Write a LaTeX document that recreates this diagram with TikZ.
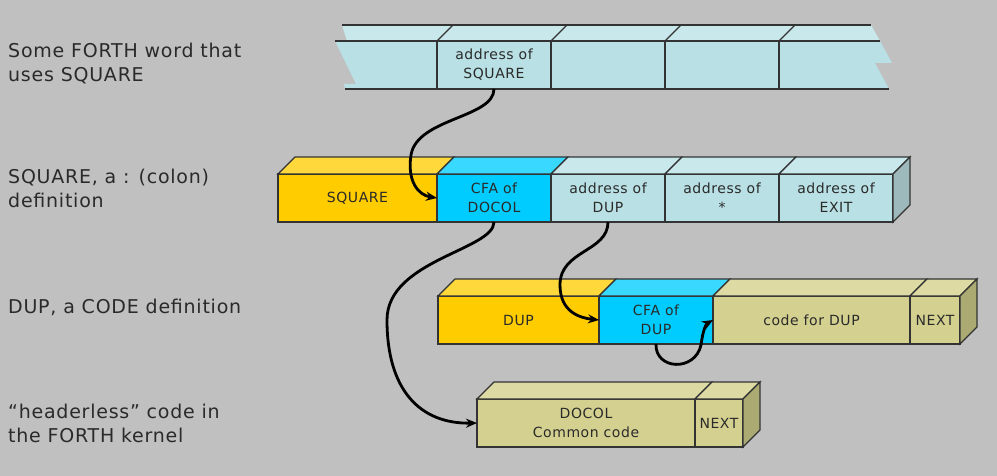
\documentclass[tikz,border=0pt]{standalone}
\usepackage{fontspec}
\newfontfamily\memfont{DejaVu Sans}[LetterSpace=4.0]
\usetikzlibrary{arrows.meta,positioning}
\definecolor{bgc}{HTML}{C0C0C0}
\definecolor{edgec}{HTML}{333333}
\definecolor{textc}{HTML}{2A2A2A}
\definecolor{goldf}{HTML}{FFCC00}
\definecolor{goldt}{HTML}{FFD83C}
\definecolor{cyanf}{HTML}{00CCFF}
\definecolor{cyant}{HTML}{38D8FF}
\definecolor{palef}{HTML}{B9E0E4}
\definecolor{palet}{HTML}{C8E8EB}
\definecolor{pales}{HTML}{9DB9BC}
\definecolor{khakif}{HTML}{D4D190}
\definecolor{khakit}{HTML}{DDDBA3}
\definecolor{khakis}{HTML}{ABAA72}
\tikzset{
  mem/edge/.style={draw=edgec, line width=1.3pt},
  mem/cell/.style={mem/edge, inner sep=0pt, outer sep=0pt, minimum height=48, align=center,
    text=textc, font=\memfont\fontsize{14}{19}\selectfont},
  mem/label/.style={anchor=west, align=left, inner sep=0pt, text=textc,
    font=\memfont\fontsize{19}{24}\selectfont},
  mem/link/.style={line width=2.8pt, black, -{Stealth[length=11pt, width=9pt]}}
}
% top face of a cell, and side face of the last cell in a row
\newcommand{\celltop}[2]{\filldraw[mem/edge, fill=#2] (#1.north west) -- ++(17,-17)
  -- ([shift={(17,-17)}]#1.north east) -- (#1.north east) -- cycle;}
\newcommand{\cellside}[2]{\filldraw[mem/edge, fill=#2] (#1.north east) -- ++(17,-17)
  -- ++(0,48) -- (#1.south east) -- cycle;}
\begin{document}
\begin{tikzpicture}[x=1pt, y=-1pt]
  \fill[bgc] (0,0) rectangle (997,476);
  \useasboundingbox (0,0) rectangle (997,476);

  % left labels
  \node[mem/label] (lword) at (8,64) {Some FORTH word that\\uses SQUARE};
  \node[mem/label] (lsquare) at (8,188) {SQUARE, a : (colon)\\definition};
  \node[mem/label] (ldup) at (8,307) {DUP, a CODE definition};
  \node[mem/label] (lkernel) at (8,423) {“headerless” code in\\the FORTH kernel};

  % calling word (torn strip)
  \fill[palet] (342,25) -- (871,25) -- (880,41) -- (347,41) -- cycle;
  \fill[palef] (335,41) -- (880,41) -- (892,63) -- (875,63) -- (889,89)
    -- (345,89) -- (344,84) -- (356,84) -- cycle;
  \node[mem/cell, fill=palef, minimum width=114, anchor=north west] (sqaddr) at (437,41) {address of\\SQUARE};
  \node[mem/cell, fill=palef, minimum width=114, right=0pt of sqaddr] (wordb) {};
  \node[mem/cell, fill=palef, minimum width=114, right=0pt of wordb] (wordc) {};
  \foreach \x in {437,551,665,779}
    \draw[mem/edge] (\x,41) -- ++(16,-16);
  \draw[mem/edge] (342,25) -- (871,25);
  \draw[mem/edge] (335,41) -- (880,41);
  \draw[mem/edge] (345,89) -- (889,89);

  % SQUARE
  \node[mem/cell, fill=goldf, minimum width=159, anchor=north west] (sq) at (278,174) {SQUARE};
  \node[mem/cell, fill=cyanf, minimum width=114, right=0pt of sq] (cfadocol) {CFA of\\DOCOL};
  \node[mem/cell, fill=palef, minimum width=114, right=0pt of cfadocol] (adup) {address of\\DUP};
  \node[mem/cell, fill=palef, minimum width=114, right=0pt of adup] (astar) {address of\\*};
  \node[mem/cell, fill=palef, minimum width=114, right=0pt of astar] (aexit) {address of\\EXIT};
  \celltop{sq}{goldt}
  \celltop{cfadocol}{cyant}
  \celltop{adup}{palet}
  \celltop{astar}{palet}
  \celltop{aexit}{palet}
  \cellside{aexit}{pales}

  % DUP
  \node[mem/cell, fill=goldf, minimum width=161, anchor=north west] (dup) at (438,296) {DUP};
  \node[mem/cell, fill=cyanf, minimum width=114, right=0pt of dup] (cfadup) {CFA of\\DUP};
  \node[mem/cell, fill=khakif, minimum width=197, right=0pt of cfadup] (codedup) {code for DUP};
  \node[mem/cell, fill=khakif, minimum width=50, right=0pt of codedup] (nextdup) {NEXT};
  \celltop{dup}{goldt}
  \celltop{cfadup}{cyant}
  \celltop{codedup}{khakit}
  \celltop{nextdup}{khakit}
  \cellside{nextdup}{khakis}

  % DOCOL
  \node[mem/cell, fill=khakif, minimum width=218, anchor=north west] (docol) at (477,399) {DOCOL\\Common code};
  \node[mem/cell, fill=khakif, minimum width=48, right=0pt of docol] (nextdocol) {NEXT};
  \celltop{docol}{khakit}
  \celltop{nextdocol}{khakit}
  \cellside{nextdocol}{khakis}

  % links
  \draw[mem/link] (sqaddr.south) .. controls (494,118) and (417,118) .. (411,155)
    .. controls (407,181) and (418,195) .. (cfadocol.west);
  \draw[mem/link] (cfadocol.south) .. controls (494,250) and (387,260) .. (387,320)
    .. controls (387,390) and (420,424) .. (docol.west);
  \draw[mem/link] (adup.south) .. controls (608,252) and (560,250) .. (560,285)
    .. controls (560,312) and (580,318) .. (cfadup.west);
  \draw[mem/link] (cfadup.south) .. controls (655,370) and (695,372) .. (701,345)
    .. controls (703,330) and (706,324) .. (codedup.west);
\end{tikzpicture}
\end{document}
